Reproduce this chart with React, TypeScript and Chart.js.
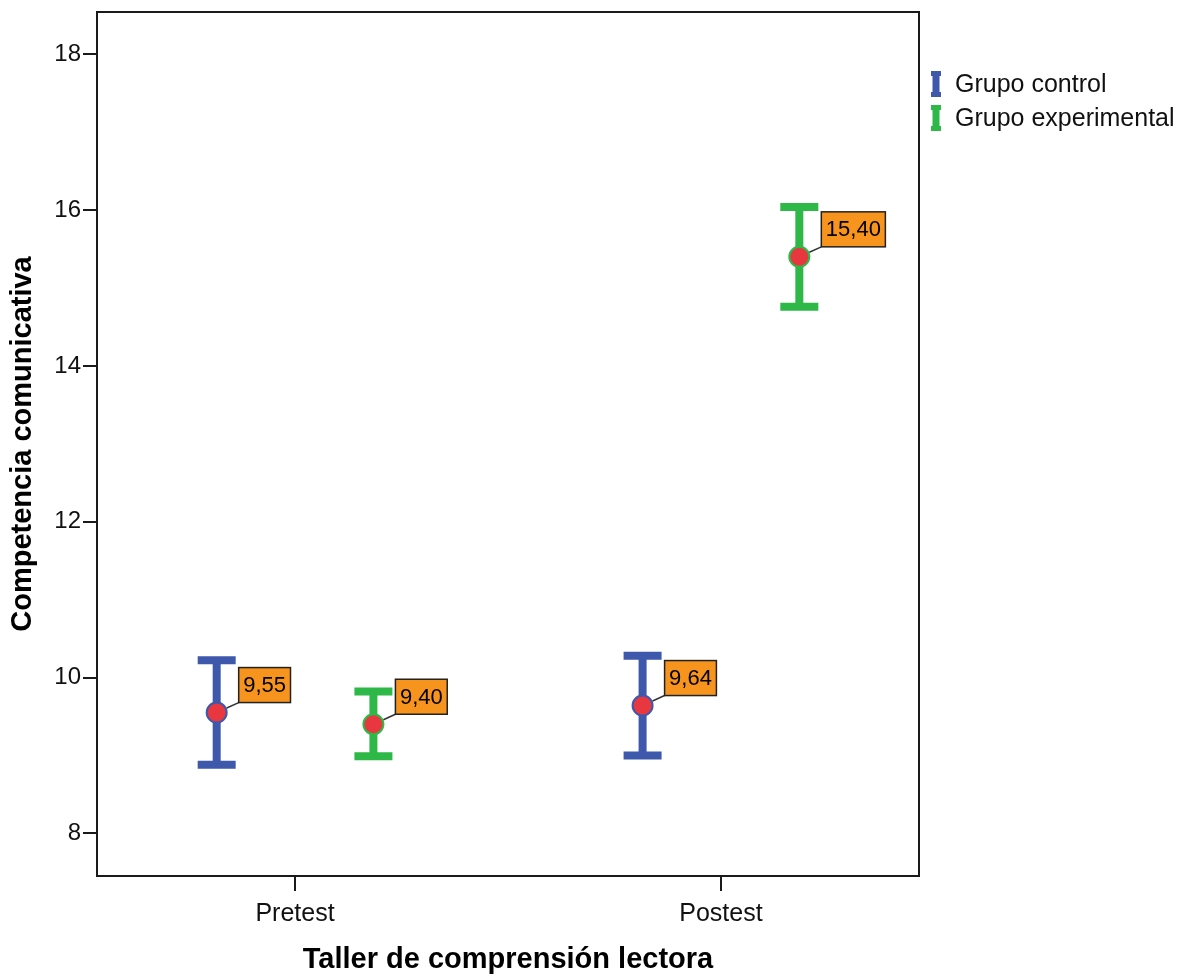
import React, { useEffect, useRef } from 'react';
import { Chart, registerables } from 'chart.js';

Chart.register(...registerables);

const categories = ['Pretest', 'Postest'];
const groupNames = ['Grupo control', 'Grupo experimental'];
const controlMean = [9.55, 9.64];
const controlLower = [8.88, 9.0];
const controlUpper = [10.22, 10.28];
const experimentalMean = [9.4, 15.4];
const experimentalLower = [8.99, 14.76];
const experimentalUpper = [9.82, 16.04];
const yTickValues = [8, 10, 12, 14, 16, 18];

const BLUE = '#3e58ac';
const GREEN = '#2eb848';
const RED = '#e8373e';
const ORANGE = '#f7941d';
const FONT = "'Liberation Sans', Arial, sans-serif";
const groupColors = [BLUE, GREEN];
const groupOffsets = [-0.184, 0.184];

const fmt = (v: number) => v.toFixed(2).replace('.', ',');

const errorBarPlugin = {
  id: 'errorBars',
  beforeDatasetsDraw(chart: any) {
    const { ctx, scales } = chart;
    const xs = scales.x;
    const ys = scales.y;
    chart.data.datasets.forEach((ds: any) => {
      ds.data.forEach((pt: any, i: number) => {
        const x = xs.getPixelForValue(pt.x);
        const yl = ys.getPixelForValue(ds.errLower[i]);
        const yh = ys.getPixelForValue(ds.errUpper[i]);
        ctx.save();
        ctx.strokeStyle = ds.barColor;
        ctx.lineWidth = 8;
        ctx.lineCap = 'butt';
        ctx.beginPath();
        ctx.moveTo(x, yl);
        ctx.lineTo(x, yh);
        ctx.moveTo(x - 19, yl);
        ctx.lineTo(x + 19, yl);
        ctx.moveTo(x - 19, yh);
        ctx.lineTo(x + 19, yh);
        ctx.stroke();
        ctx.restore();
      });
    });
  },
  afterDatasetsDraw(chart: any) {
    const { ctx, scales } = chart;
    const xs = scales.x;
    const ys = scales.y;
    chart.data.datasets.forEach((ds: any) => {
      ds.data.forEach((pt: any) => {
        const px = xs.getPixelForValue(pt.x);
        const py = ys.getPixelForValue(pt.y);
        const text = fmt(pt.y);
        ctx.save();
        ctx.font = `22px ${FONT}`;
        const tw = ctx.measureText(text).width;
        const bw = tw + 9;
        const bh = 35;
        const bx = px + 22;
        const by = py - 10 - bh;
        const dx = bx - px;
        const dy = by + bh - py;
        const d = Math.sqrt(dx * dx + dy * dy);
        ctx.strokeStyle = '#333';
        ctx.lineWidth = 1.5;
        ctx.beginPath();
        ctx.moveTo(px + (dx / d) * 11, py + (dy / d) * 11);
        ctx.lineTo(bx, by + bh);
        ctx.stroke();
        ctx.fillStyle = ORANGE;
        ctx.fillRect(bx, by, bw, bh);
        ctx.strokeStyle = '#222';
        ctx.lineWidth = 1.5;
        ctx.strokeRect(bx, by, bw, bh);
        ctx.fillStyle = '#000';
        ctx.textAlign = 'center';
        ctx.textBaseline = 'middle';
        ctx.fillText(text, bx + bw / 2, by + bh / 2 + 1);
        ctx.restore();
      });
    });
  },
  afterDraw(chart: any) {
    const { ctx, chartArea } = chart;
    ctx.save();
    ctx.strokeStyle = '#1a1a1a';
    ctx.lineWidth = 2;
    ctx.strokeRect(chartArea.left, chartArea.top, chartArea.right - chartArea.left, chartArea.bottom - chartArea.top);
    const lx = chartArea.right + 17;
    groupNames.forEach((name, i) => {
      const cy = 84 + i * 34;
      ctx.fillStyle = groupColors[i];
      ctx.fillRect(lx - 5, cy - 13, 10, 5);
      ctx.fillRect(lx - 5, cy + 8, 10, 5);
      ctx.fillRect(lx - 3.5, cy - 13, 7, 26);
      ctx.fillStyle = '#111';
      ctx.font = `25px ${FONT}`;
      ctx.textAlign = 'left';
      ctx.textBaseline = 'middle';
      ctx.fillText(name, lx + 19, cy + 1);
    });
    ctx.restore();
  },
};

export default function App() {
  const ref = useRef<HTMLCanvasElement>(null);
  useEffect(() => {
    if (!ref.current) return;
    const chart = new Chart(ref.current, {
      type: 'scatter',
      data: {
        datasets: [
          {
            label: groupNames[0],
            data: controlMean.map((v, i) => ({ x: i + 1 + groupOffsets[0], y: v })),
            errLower: controlLower,
            errUpper: controlUpper,
            barColor: BLUE,
            pointRadius: 10,
            pointBackgroundColor: RED,
            pointBorderColor: BLUE,
            pointBorderWidth: 2,
          } as any,
          {
            label: groupNames[1],
            data: experimentalMean.map((v, i) => ({ x: i + 1 + groupOffsets[1], y: v })),
            errLower: experimentalLower,
            errUpper: experimentalUpper,
            barColor: GREEN,
            pointRadius: 10,
            pointBackgroundColor: RED,
            pointBorderColor: GREEN,
            pointBorderWidth: 2,
          } as any,
        ],
      },
      options: {
        animation: false,
        responsive: false,
        devicePixelRatio: 1,
        layout: { padding: { top: 12, right: 267, left: 0, bottom: 0 } },
        plugins: { legend: { display: false }, tooltip: { enabled: false } },
        scales: {
          x: {
            type: 'linear',
            min: 0.535,
            max: 2.465,
            afterBuildTicks: (s: any) => {
              s.ticks = categories.map((_, i) => ({ value: i + 1 }));
            },
            afterFit: (s: any) => {
              s.height = 100;
              s.paddingLeft = 0;
              s.paddingRight = 0;
            },
            ticks: {
              callback: (v: any) => categories[Math.round(Number(v)) - 1] ?? '',
              font: { family: FONT, size: 25 },
              color: '#111',
              padding: 8,
              maxRotation: 0,
            },
            grid: { drawOnChartArea: false, drawTicks: true, tickLength: 15, color: '#1a1a1a', lineWidth: 2 },
            border: { display: true, color: '#1a1a1a', width: 2 },
            title: {
              display: true,
              text: 'Taller de comprensión lectora',
              font: { family: FONT, size: 29, weight: 'bold' },
              color: '#000',
              padding: { top: 0, bottom: -1 },
            },
          },
          y: {
            type: 'linear',
            min: 7.452,
            max: 18.543,
            afterBuildTicks: (s: any) => {
              s.ticks = yTickValues.map((v) => ({ value: v }));
            },
            afterFit: (s: any) => {
              s.width = 97;
              s.paddingTop = 0;
              s.paddingBottom = 0;
            },
            ticks: {
              font: { family: FONT, size: 24 },
              color: '#111',
              padding: 2,
            },
            grid: { drawOnChartArea: false, drawTicks: true, tickLength: 14, color: '#1a1a1a', lineWidth: 2 },
            border: { display: true, color: '#1a1a1a', width: 2 },
            title: {
              display: true,
              text: 'Competencia comunicativa',
              font: { family: FONT, size: 29, weight: 'bold' },
              color: '#000',
              padding: { top: 6, bottom: 0 },
            },
          },
        },
      },
      plugins: [errorBarPlugin],
    } as any);
    return () => chart.destroy();
  }, []);
  return (
    <div style={{ position: 'absolute', left: 0, top: 0, width: 1186, height: 976 }}>
      <canvas ref={ref} width={1186} height={976} />
    </div>
  );
}
